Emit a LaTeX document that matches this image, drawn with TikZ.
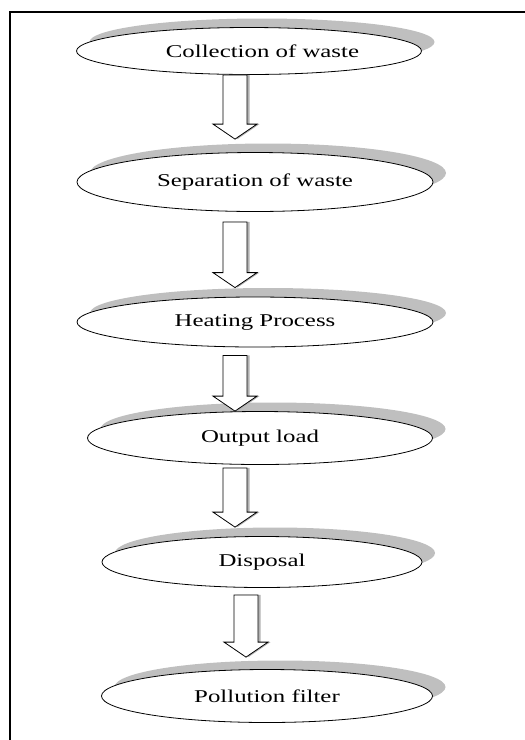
\documentclass[tikz,border=0pt]{standalone}
\usepackage{fontspec}
\setmainfont{Liberation Serif}
\newfontfamily\stagefont[FakeStretch=1.38]{Liberation Serif}
\usepackage{tikz}
\usetikzlibrary{calc,positioning,shapes.geometric,shadows}

\begin{document}
\begin{tikzpicture}
  [
    x=1pt, y=-1pt,
    stage/.style={ellipse,draw=black,line width=0.8pt,fill=white,inner sep=0pt,
      font=\stagefont\fontsize{18}{20}\selectfont,
      drop shadow={shadow xshift=13pt,shadow yshift=9pt,fill=black!25,opacity=1}},
    flow/.style={draw=black,fill=white,line width=0.8pt,line join=miter,
      drop shadow={shadow xshift=2.5pt,shadow yshift=0pt,fill=black!30,opacity=1},
      to path={let \p1=(\tikztostart), \p2=(\tikztotarget) in
        (\x1-12pt,\y1) -- (\x1+12pt,\y1) -- (\x1+12pt,\y2+15pt) -- (\x1+22pt,\y2+15pt)
        -- (\x1,\y2) -- (\x1-22pt,\y2+15pt) -- (\x1-12pt,\y2+15pt) -- cycle}}
  ]
  \useasboundingbox (0,0) rectangle (525,740);
  \draw[line width=1.5pt] (10,740) -- (10,12) -- (525,12);

  \node[stage,minimum width=345pt,minimum height=47pt] (collection) at (249,51) {\hspace*{27pt}Collection of waste};
  \node[stage,minimum width=356pt,minimum height=59pt] (separation) at (255,182) {Separation of waste};
  \node[stage,minimum width=356pt,minimum height=50pt] (heating) at (255,322) {Heating Process};
  \node[stage,minimum width=345pt,minimum height=53pt] (output) at (260,438) {Output load};
  \node[stage,minimum width=320pt,minimum height=51pt] (disposal) at (262,562) {Disposal};
  \node[stage,minimum width=331pt,minimum height=53pt] (pollution) at (267,696) {Pollution filter};

  \coordinate (axis) at (235,0);
  \coordinate (axis b) at (246,0);
  \draw[flow] (collection.south -| axis) to ($(separation.north -| axis)+(0,-13)$);
  \draw[flow] ($(separation.south -| axis)+(0,10)$) to ($(heating.north -| axis)+(0,-9)$);
  \draw[flow] ($(heating.south -| axis)+(0,8)$) to (output.north -| axis);
  \draw[flow] ($(output.south -| axis)+(0,3)$) to ($(disposal.north -| axis)+(0,-9)$);
  \draw[flow] ($(disposal.south -| axis b)+(0,7)$) to ($(pollution.north -| axis b)+(0,-12)$);
\end{tikzpicture}
\end{document}
